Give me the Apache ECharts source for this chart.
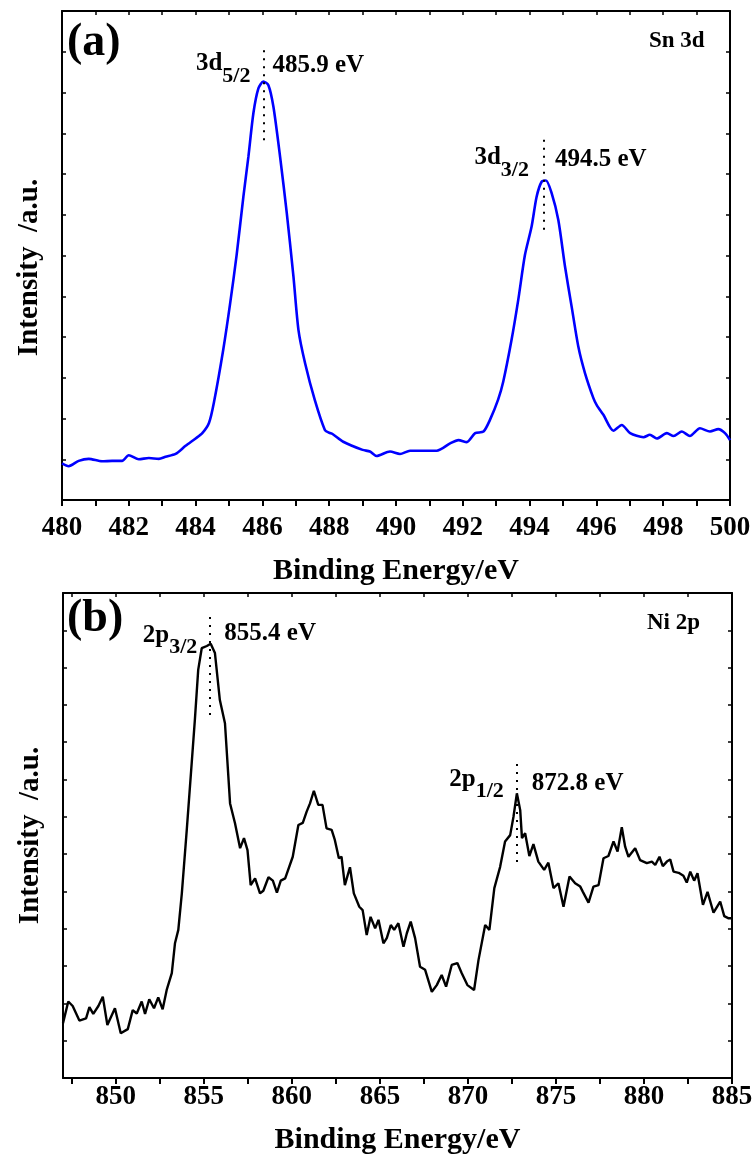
<!DOCTYPE html>
<html><head><meta charset="utf-8">
<script src="https://cdn.jsdelivr.net/npm/echarts@6/dist/echarts.min.js"></script>
<style>html,body{margin:0;padding:0;background:#fff}#c{width:755px;height:1162px}</style>
</head><body><div id="c"></div>
<script>
// ---- Panel (a): Sn 3d ----
const snEnergy = [480.0,480.2,480.5,480.8,481.2,481.5,481.8,482.0,482.3,482.6,482.9,483.1,483.4,483.7,484.0,484.2,484.4,484.55,484.83,485.03,485.23,485.43,485.58,485.73,485.88,486.03,486.18,486.33,486.53,486.73,486.93,487.08,487.28,487.57,487.87,488.0,488.1,488.42,489.0,489.22,489.42,489.82,490.12,490.42,491.22,491.62,491.87,492.12,492.37,492.62,492.81,493.06,493.21,493.46,493.66,493.86,494.06,494.21,494.36,494.49,494.66,494.86,495.06,495.26,495.46,495.66,495.91,496.01,496.21,496.51,496.76,497.01,497.41,497.60,497.81,498.11,498.31,498.56,498.80,499.10,499.40,499.65,499.85,500.0];
const snIntensity = [0.90,0.83,0.96,1.01,0.95,0.96,0.96,1.10,1.00,1.03,1.01,1.06,1.13,1.33,1.51,1.64,1.89,2.40,3.70,4.80,6.02,7.44,8.42,9.49,10.10,10.27,10.18,9.65,8.42,7.04,5.48,4.17,3.35,2.45,1.72,1.65,1.62,1.43,1.23,1.19,1.08,1.19,1.13,1.21,1.21,1.39,1.47,1.42,1.64,1.68,1.96,2.47,2.90,3.93,4.91,6.01,6.71,7.44,7.81,7.84,7.53,6.87,5.73,4.74,3.76,3.11,2.50,2.33,2.09,1.70,1.84,1.64,1.54,1.60,1.51,1.64,1.57,1.68,1.57,1.76,1.68,1.74,1.64,1.47];
const snTickLabels = [480,482,484,486,488,490,492,494,496,498,500];
const snPeakPos = [486.03, 494.43];
const snPeakOrbital = ['3d', '3d'];
const snPeakSub = ['5/2', '3/2'];
const snPeakText = ['485.9 eV', '494.5 eV'];
const snDotSpan = [[8.83, 11.12], [6.63, 8.88]];
const snLabelLevel = [10.57, 8.26];
const snTextLevel = [10.67, 8.35];

// ---- Panel (b): Ni 2p ----
const niEnergy = [847.0,847.30,847.55,847.93,848.31,848.50,848.72,849.01,849.26,849.52,849.95,850.28,850.68,850.96,851.19,851.47,851.66,851.90,852.17,852.41,852.66,852.89,853.18,853.36,853.55,853.75,854.03,854.31,854.49,854.68,854.88,855.17,855.39,855.63,855.91,856.20,856.49,856.77,857.06,857.28,857.48,857.66,857.91,858.19,858.38,858.67,858.92,859.15,859.37,859.62,860.05,860.37,860.62,860.84,861.03,861.25,861.50,861.74,861.97,862.26,862.44,862.67,862.82,863.01,863.30,863.52,863.83,864.02,864.25,864.47,864.73,864.92,865.20,865.39,865.62,865.81,866.05,866.34,866.53,866.75,867.0,867.28,867.57,867.95,868.23,868.51,868.76,869.08,869.40,869.65,869.97,870.35,870.60,870.98,871.22,871.50,871.83,872.11,872.40,872.59,872.78,872.97,873.07,873.25,873.49,873.72,874.00,874.33,874.57,874.86,875.14,875.43,875.77,876.09,876.38,876.53,876.85,877.13,877.42,877.70,877.98,878.27,878.50,878.74,878.93,879.12,879.50,879.78,880.16,880.45,880.64,880.88,881.07,881.30,881.49,881.68,881.97,882.24,882.43,882.63,882.85,883.04,883.35,883.61,883.95,884.33,884.56,884.81,885.0];
const niIntensity = [1.47,2.05,1.93,1.54,1.60,1.90,1.72,1.93,2.18,1.42,1.87,1.20,1.31,1.82,1.73,2.05,1.72,2.11,1.87,2.16,1.84,2.36,2.81,3.61,3.97,4.95,6.65,8.44,9.60,10.94,11.52,11.58,11.64,11.39,10.13,9.51,7.36,6.83,6.16,6.43,6.11,5.17,5.35,4.95,5.02,5.38,5.29,4.97,5.29,5.35,5.93,6.78,6.84,7.14,7.36,7.70,7.32,7.32,6.69,6.65,6.38,5.89,5.93,5.17,5.65,4.95,4.59,4.50,3.83,4.32,4.01,4.24,3.61,3.75,4.10,3.97,4.15,3.52,3.88,4.19,3.75,2.98,2.90,2.31,2.49,2.76,2.45,3.03,3.08,2.81,2.49,2.36,3.16,4.10,3.97,5.09,5.66,6.34,6.51,7.01,7.63,7.18,6.43,6.56,5.95,6.27,5.80,5.58,5.77,5.09,5.22,4.59,5.40,5.22,5.13,4.99,4.70,5.13,5.17,5.89,5.95,6.34,6.07,6.72,6.20,5.93,6.16,5.84,5.76,5.80,5.71,5.93,5.68,5.80,5.86,5.53,5.50,5.42,5.24,5.53,5.29,5.49,4.64,4.99,4.43,4.73,4.34,4.28,4.28];
const niTickLabels = [850,855,860,865,870,875,880,885];
const niTickMarks = [847.5,850,852.5,855,857.5,860,862.5,865,867.5,870,872.5,875,877.5,880,882.5,885];
const niPeakPos = [855.31, 872.78];
const niPeakOrbital = ['2p', '2p'];
const niPeakSub = ['3/2', '1/2'];
const niPeakText = ['855.4 eV', '872.8 eV'];
const niDotSpan = [[9.73, 12.47], [5.79, 8.47]];
const niLabelLevel = [11.72, 7.86];
const niTextLevel = [11.92, 7.90];

const FONT = 'Liberation Serif, Times New Roman, serif';
const bold = (size) => ({fontFamily: FONT, fontWeight: 'bold', fontSize: size, color: '#000'});
const rich = {
  a: Object.assign(bold(25), {verticalAlign: 'top', lineHeight: 28}),
  b: Object.assign(bold(22), {verticalAlign: 'bottom', lineHeight: 36})
};

function peakMarks(pos, orb, sub, txt, span, level, tlevel, leftDist, rightDist) {
  const lines = pos.map((p, i) => [{coord: [p, span[i][0]]}, {coord: [p, span[i][1]]}]);
  const points = [];
  pos.forEach((p, i) => {
    points.push({coord: [p, level[i]], label: {show: true, position: 'left', distance: leftDist[i],
      formatter: '{a|' + orb[i] + '}{b|' + sub[i] + '}', rich: rich}});
    points.push({coord: [p, tlevel[i]], label: {show: true, position: 'right', distance: rightDist[i],
      formatter: txt[i], textStyle: bold(25)}});
  });
  return {
    markLine: {silent: true, symbol: 'none', animation: false, label: {show: false},
      lineStyle: {type: [2, 6], width: 2, color: '#000'}, data: lines},
    markPoint: {silent: true, symbol: 'circle', symbolSize: 0, animation: false,
      itemStyle: {color: 'transparent'}, data: points}
  };
}

const axisLine = {show: true, onZero: false, lineStyle: {color: '#000', width: 2}};
function xBottom(grid, min, max, labels, ticks, margin, gap) {
  const ax = {type: 'value', gridIndex: grid, position: 'bottom', min: min, max: max,
    axisLine: axisLine, splitLine: {show: false},
    axisTick: {show: true, inside: false, length: 6, lineStyle: {color: '#000', width: 2}},
    axisLabel: Object.assign(bold(27), {customValues: labels, margin: margin}),
    name: 'Binding Energy/eV', nameLocation: 'middle', nameGap: gap, nameTextStyle: bold(30)};
  if (Array.isArray(ticks)) ax.axisTick.customValues = ticks; else ax.interval = ticks;
  return ax;
}
function xTop(grid, min, max, ticks) {
  const ax = {type: 'value', gridIndex: grid, position: 'top', min: min, max: max,
    axisLine: axisLine, splitLine: {show: false}, axisLabel: {show: false},
    axisTick: {show: true, inside: true, length: 4, lineStyle: {color: '#000', width: 1.5}}};
  if (Array.isArray(ticks)) ax.axisTick.customValues = ticks; else ax.interval = ticks;
  return ax;
}
function yAx(grid, pos, max, named, pad) {
  const ax = {type: 'value', gridIndex: grid, position: pos, min: 0, max: max, interval: 1,
    axisLine: axisLine, splitLine: {show: false}, axisLabel: {show: false},
    axisTick: {show: true, inside: true, length: 4, lineStyle: {color: '#000', width: 1.5}}};
  if (named) {
    ax.name = 'Intensity  /a.u.'; ax.nameLocation = 'middle'; ax.nameGap = 18;
    ax.nameTextStyle = Object.assign(bold(29), {padding: [0, pad, 0, 0]});
  }
  return ax;
}

const chart = echarts.init(document.getElementById('c'), null, {renderer: 'canvas'});
chart.setOption({
  animation: false,
  backgroundColor: '#fff',
  title: [
    {text: '(a)', left: 67, top: 20, padding: 0, textStyle: bold(46)},
    {text: '(b)', left: 67, top: 596, padding: 0, textStyle: bold(46)},
    {text: 'Sn 3d', left: 649, top: 30, padding: 0, textStyle: bold(23)},
    {text: 'Ni 2p', left: 647, top: 612, padding: 0, textStyle: bold(23)}
  ],
  grid: [
    {left: 62, right: 25, top: 11, height: 489, outerBoundsMode: 'none'},
    {left: 63, right: 23, top: 593, height: 485, outerBoundsMode: 'none'}
  ],
  xAxis: [
    xBottom(0, 480, 500, snTickLabels, 1, 15, 56),
    xTop(0, 480, 500, 1),
    xBottom(1, 847, 885, niTickLabels, niTickMarks, 6, 47),
    xTop(1, 847, 885, niTickMarks)
  ],
  yAxis: [
    yAx(0, 'left', 12, true, 24),
    yAx(0, 'right', 12, false, 0),
    yAx(1, 'left', 13, true, 0),
    yAx(1, 'right', 13, false, 0)
  ],
  series: [
    Object.assign({
      type: 'line', xAxisIndex: 0, yAxisIndex: 0, showSymbol: false, smooth: 0.25,
      lineStyle: {color: '#0000ff', width: 2.6}, itemStyle: {color: '#0000ff'},
      data: snEnergy.map((e, i) => [e, snIntensity[i]])
    }, peakMarks(snPeakPos, snPeakOrbital, snPeakSub, snPeakText, snDotSpan, snLabelLevel, snTextLevel, [13, 15], [9, 11])),
    Object.assign({
      type: 'line', xAxisIndex: 2, yAxisIndex: 2, showSymbol: false,
      lineStyle: {color: '#000', width: 2.4}, itemStyle: {color: '#000'},
      data: niEnergy.map((e, i) => [e, niIntensity[i]])
    }, peakMarks(niPeakPos, niPeakOrbital, niPeakSub, niPeakText, niDotSpan, niLabelLevel, niTextLevel, [12, 13], [15, 15]))
  ]
});
</script>
</body></html>
